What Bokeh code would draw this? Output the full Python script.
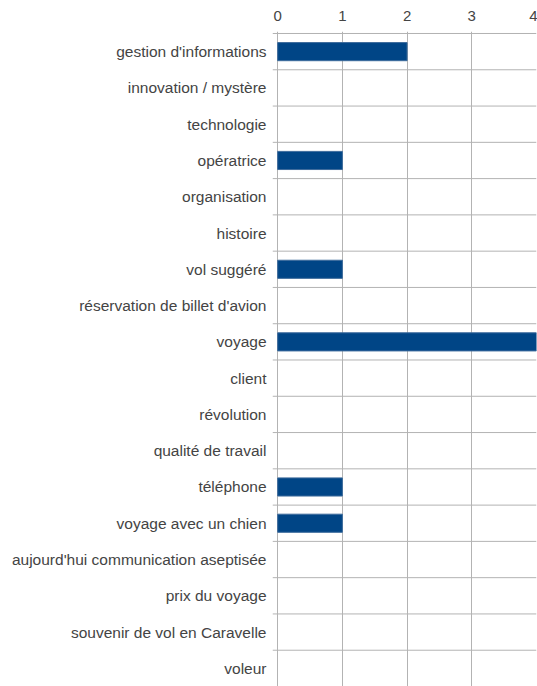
from bokeh.plotting import figure
from bokeh.models import Range1d, FixedTicker
from bokeh.embed import file_html
from bokeh.resources import INLINE

categories = ["gestion d'informations", "innovation / mystère", "technologie", "opératrice",
              "organisation", "histoire", "vol suggéré", "réservation de billet d'avion",
              "voyage", "client", "révolution", "qualité de travail", "téléphone",
              "voyage avec un chien", "aujourd'hui communication aseptisée", "prix du voyage",
              "souvenir de vol en Caravelle", "voleur"]
values = [2, 0, 0, 1, 0, 0, 1, 0, 4, 0, 0, 0, 1, 1, 0, 0, 0, 0]
x_ticks = [0, 1, 2, 3, 4]

n = len(categories)
centers = [i + 0.5 for i in range(n)]

p = figure(width=537, height=686, output_backend="svg", toolbar_location=None,
           x_range=Range1d(-0.08, 4.0), y_range=Range1d(n, -0.055),
           x_axis_location="above", min_border_left=272, min_border_right=1,
           min_border_top=31, min_border_bottom=0)
p.outline_line_color = None
p.background_fill_color = "white"

# grid
p.xgrid.ticker = FixedTicker(ticks=x_ticks)
p.xgrid.grid_line_color = "#b3b3b3"
p.xgrid.grid_line_width = 1
p.ygrid.visible = False

# horizontal separators (incl. small left ticks)
bounds = list(range(n + 1))
p.segment(x0=[-0.08] * len(bounds), x1=[4.0] * len(bounds), y0=bounds, y1=bounds,
          line_color="#b3b3b3", line_width=1)

# bars
nz = [(c, v) for c, v in zip(centers, values) if v > 0]
p.hbar(y=[c for c, v in nz], right=[v for c, v in nz], left=0, height=0.5,
       fill_color="#004586", line_color="#3d6b9c", line_width=1)

text_color = "#444444"

# top axis
xa = p.xaxis[0]
xa.ticker = FixedTicker(ticks=x_ticks)
xa.axis_line_color = None
xa.major_tick_line_color = None
xa.minor_tick_line_color = None
xa.major_label_text_font = "Liberation Sans"
xa.major_label_text_font_size = "15px"
xa.major_label_text_color = text_color
xa.major_label_standoff = 5

# left axis
ya = p.yaxis[0]
ya.ticker = FixedTicker(ticks=centers)
ya.major_label_overrides = {c: name for c, name in zip(centers, categories)}
ya.axis_line_color = None
ya.major_tick_line_color = None
ya.minor_tick_line_color = None
ya.major_label_text_font = "Liberation Sans"
ya.major_label_text_font_size = "15.5px"
ya.major_label_text_color = text_color
ya.major_label_standoff = 0

open("out.html", "w").write(file_html(p, INLINE))
